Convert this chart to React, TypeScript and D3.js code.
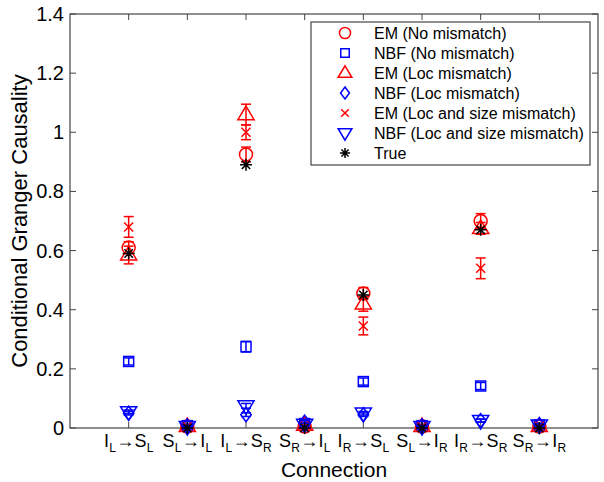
import React from "react";
import * as d3 from "d3";

const connections: [string, string, string, string][] = [
  ["I", "L", "S", "L"],
  ["S", "L", "I", "L"],
  ["I", "L", "S", "R"],
  ["S", "R", "I", "L"],
  ["I", "R", "S", "L"],
  ["S", "L", "I", "R"],
  ["I", "R", "S", "R"],
  ["S", "R", "I", "R"],
];

const emNo = [0.61, 0.005, 0.925, 0.005, 0.455, 0.005, 0.7, 0.005];
const emNoErr = [0.02, 0.005, 0.025, 0.005, 0.02, 0.005, 0.025, 0.005];
const nbfNo = [0.225, 0.008, 0.275, 0.015, 0.157, 0.008, 0.142, 0.01];
const nbfNoErr = [0.012, 0.005, 0.018, 0.005, 0.012, 0.004, 0.012, 0.005];
const emLoc = [0.585, 0.005, 1.06, 0.01, 0.42, 0.005, 0.675, 0.005];
const emLocErr = [0.03, 0.005, 0.035, 0.005, 0.025, 0.005, 0.02, 0.005];
const nbfLoc = [0.05, 0.008, 0.045, 0.02, 0.045, 0.008, 0.025, 0.012];
const nbfLocErr = [0.006, 0.004, 0.006, 0.005, 0.006, 0.004, 0.005, 0.004];
const emLS = [0.68, 0.005, 1.0, 0.005, 0.345, 0.005, 0.54, 0.005];
const emLSErr = [0.035, 0.005, 0.025, 0.005, 0.03, 0.005, 0.035, 0.005];
const nbfLS = [0.055, 0.005, 0.075, 0.012, 0.05, 0.005, 0.025, 0.01];
const nbfLSErr = [0.006, 0.004, 0.008, 0.004, 0.006, 0.004, 0.005, 0.004];
const trueVals = [0.59, 0, 0.89, 0, 0.45, 0, 0.67, 0];

const yTicks = [0, 0.2, 0.4, 0.6, 0.8, 1, 1.2, 1.4];

type Shape = "circle" | "square" | "tri" | "diamond" | "x" | "triDown" | "star";

const series: { name: string; values: number[]; err: number[] | null; color: string; shape: Shape }[] = [
  { name: "EM (No mismatch)", values: emNo, err: emNoErr, color: "#ff0000", shape: "circle" },
  { name: "NBF (No mismatch)", values: nbfNo, err: nbfNoErr, color: "#0000ff", shape: "square" },
  { name: "EM (Loc mismatch)", values: emLoc, err: emLocErr, color: "#ff0000", shape: "tri" },
  { name: "NBF (Loc mismatch)", values: nbfLoc, err: nbfLocErr, color: "#0000ff", shape: "diamond" },
  { name: "EM (Loc and size mismatch)", values: emLS, err: emLSErr, color: "#ff0000", shape: "x" },
  { name: "NBF (Loc and size mismatch)", values: nbfLS, err: nbfLSErr, color: "#0000ff", shape: "triDown" },
  { name: "True", values: trueVals, err: null, color: "#000000", shape: "star" },
];

const FONT = "Liberation Sans, Arial, sans-serif";
const MAIN_SIZE = 18;
const SUB_SIZE = 12;

let ctx: CanvasRenderingContext2D | null = null;
function measure(text: string, size: number): number {
  if (!ctx && typeof document !== "undefined") {
    ctx = document.createElement("canvas").getContext("2d");
  }
  if (!ctx) return text.length * size * 0.6;
  ctx.font = `${size}px ${FONT}`;
  return ctx.measureText(text).width;
}

function Marker({ shape, x, y, color, s = 1 }: { shape: Shape; x: number; y: number; color: string; s?: number }) {
  const common = { fill: "none", stroke: color, strokeWidth: 1.5 };
  switch (shape) {
    case "circle":
      return <circle cx={x} cy={y} r={6.5 * s} {...common} />;
    case "square":
      return <rect x={x - 5 * s} y={y - 5 * s} width={10 * s} height={10 * s} {...common} />;
    case "tri": {
      const r = 8.5 * s;
      return <path d={`M${x},${y - r} L${x + r * 0.95},${y + r * 0.6} L${x - r * 0.95},${y + r * 0.6} Z`} {...common} />;
    }
    case "triDown": {
      const r = 8.5 * s;
      return <path d={`M${x},${y + r} L${x + r * 0.95},${y - r * 0.6} L${x - r * 0.95},${y - r * 0.6} Z`} {...common} />;
    }
    case "diamond": {
      const r = 7 * s;
      return <path d={`M${x},${y - r} L${x + r * 0.75},${y} L${x},${y + r} L${x - r * 0.75},${y} Z`} {...common} />;
    }
    case "x": {
      const r = 4.5 * s;
      return <path d={`M${x - r},${y - r} L${x + r},${y + r} M${x - r},${y + r} L${x + r},${y - r}`} {...common} />;
    }
    case "star": {
      const r = 6 * s;
      const d = r * 0.7;
      return (
        <path
          d={`M${x - r},${y} L${x + r},${y} M${x},${y - r} L${x},${y + r} M${x - d},${y - d} L${x + d},${y + d} M${x - d},${y + d} L${x + d},${y - d}`}
          {...common}
        />
      );
    }
  }
}

function ConnLabel({ c, cx, baseY }: { c: [string, string, string, string]; cx: number; baseY: number }) {
  const segs = [
    { t: c[0], size: MAIN_SIZE, dy: 0 },
    { t: c[1], size: SUB_SIZE, dy: 5 },
    { t: "→", size: MAIN_SIZE, dy: 0 },
    { t: c[2], size: MAIN_SIZE, dy: 0 },
    { t: c[3], size: SUB_SIZE, dy: 5 },
  ];
  const gap = 0.3;
  const widths = segs.map((s) => measure(s.t, s.size));
  const total = widths.reduce((a, b) => a + b, 0) + gap * (segs.length - 1);
  let pos = cx - total / 2;
  return (
    <g>
      {segs.map((s, i) => {
        const el = (
          <text key={i} x={pos} y={baseY + s.dy} fontSize={s.size} fill="#000">
            {s.t}
          </text>
        );
        pos += widths[i] + gap;
        return el;
      })}
    </g>
  );
}

export default function App() {
  const W = 604;
  const H = 482;
  const left = 70;
  const right = 598;
  const top = 14;
  const bottom = 428;
  const x = d3.scaleLinear().domain([0, 9]).range([left, right]);
  const y = d3.scaleLinear().domain([0, 1.4]).range([bottom, top]);
  const axisColor = "#444";
  const tickLen = 6;

  const legendX = 311;
  const legendY = 22;
  const legendW = 279;
  const legendH = 143;

  return (
    <svg width={W} height={H} style={{ position: "absolute", left: 0, top: 0, background: "#fff" }} fontFamily={FONT}>
      <rect x={0} y={0} width={W} height={H} fill="#fff" />
      <rect x={left} y={top} width={right - left} height={bottom - top} fill="none" stroke={axisColor} strokeWidth={1.2} />
      {yTicks.map((t) => (
        <g key={"y" + t}>
          <line x1={left} x2={left + tickLen} y1={y(t)} y2={y(t)} stroke={axisColor} />
          <line x1={right} x2={right - tickLen} y1={y(t)} y2={y(t)} stroke={axisColor} />
          <text x={left - 6} y={y(t) + 7} textAnchor="end" fontSize={20} fill="#000">
            {t === 0 ? "0" : t === 1 ? "1" : t.toFixed(1)}
          </text>
        </g>
      ))}
      {connections.map((c, i) => (
        <g key={"x" + i}>
          <line x1={x(i + 1)} x2={x(i + 1)} y1={bottom} y2={bottom - tickLen} stroke={axisColor} />
          <line x1={x(i + 1)} x2={x(i + 1)} y1={top} y2={top + tickLen} stroke={axisColor} />
          <ConnLabel c={c} cx={x(i + 1)} baseY={447} />
        </g>
      ))}
      <text x={(left + right) / 2} y={477} textAnchor="middle" fontSize={21} fill="#000">
        Connection
      </text>
      <text
        transform={`translate(27,${(top + bottom) / 2}) rotate(-90)`}
        textAnchor="middle"
        fontSize={22}
        fill="#000"
      >
        Conditional Granger Causality
      </text>

      {series.map((s) => (
        <g key={s.name}>
          {s.values.map((v, i) => {
            const cx = x(i + 1);
            const cy = y(v);
            const e = s.err ? s.err[i] : 0;
            return (
              <g key={i}>
                {s.err && (
                  <g stroke={s.color} strokeWidth={1.5}>
                    <line x1={cx} x2={cx} y1={y(v - e)} y2={y(v + e)} />
                    <line x1={cx - 5} x2={cx + 5} y1={y(v - e)} y2={y(v - e)} />
                    <line x1={cx - 5} x2={cx + 5} y1={y(v + e)} y2={y(v + e)} />
                  </g>
                )}
                <Marker shape={s.shape} x={cx} y={cy} color={s.color} />
              </g>
            );
          })}
        </g>
      ))}

      <rect x={legendX} y={legendY} width={legendW} height={legendH} fill="#fff" stroke={axisColor} strokeWidth={1.2} />
      {series.map((s, i) => {
        const ry = legendY + 11 + i * 20;
        return (
          <g key={"l" + i}>
            <Marker shape={s.shape} x={345} y={ry} color={s.color} s={0.85} />
            <text x={374} y={ry + 6} fontSize={16} fill="#000">
              {s.name}
            </text>
          </g>
        );
      })}
    </svg>
  );
}
